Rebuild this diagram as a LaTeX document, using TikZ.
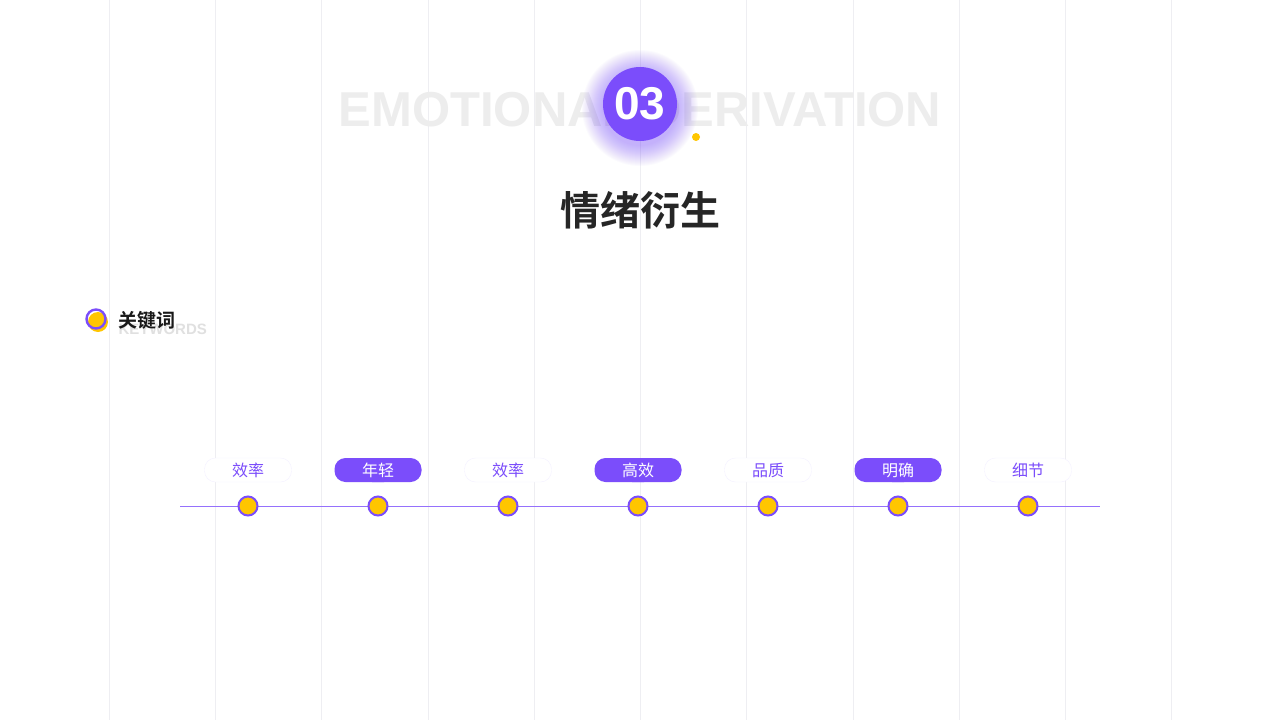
\documentclass[tikz,border=0pt]{standalone}
\usepackage{fontspec}
\setmainfont{Liberation Sans}
\newfontfamily\cjk{Noto Sans CJK SC}
\newfontfamily\cjkb{Noto Sans CJK SC Bold}
\definecolor{pur}{HTML}{7B4DFB}
\definecolor{yel}{HTML}{FFC600}
\definecolor{gridc}{HTML}{EEEEF2}
\tikzset{
 tag/.style={rounded corners=11pt,minimum width=87pt,minimum height=24pt,inner sep=0pt,font=\cjk\fontsize{16}{16}\selectfont},
 taglight/.style={tag,draw=pur!8,fill=white,text=pur},
 tagdark/.style={tag,fill=pur,text=white},
 dot/.style={circle,draw=pur,line width=2pt,fill=yel,minimum size=19pt,inner sep=0pt}
}
\begin{document}
\begin{tikzpicture}[x=1pt,y=-1pt]
\useasboundingbox (0,0) rectangle (1280,720);
\fill[white] (0,0) rectangle (1280,720);
\foreach \x in {109,215,321,428,534,640,746,853,959,1065,1171}
  \draw[gridc,line width=0.8pt] (\x,0) -- (\x,720);
\node[text=black!7,font=\bfseries\fontsize{49}{49}\selectfont] (bg) at (640,110) {EMOTIONAL DERIVATION};
\foreach \r in {38,39,...,58}
  \fill[pur,opacity=0.025] (640,108) circle (\r);
\node[circle,fill=pur,minimum size=74pt,inner sep=0pt,text=white,font=\bfseries\fontsize{46}{46}\selectfont] (num) at (640,104) {03};
\fill[yel] (696,137) circle (4);
\node[font=\cjkb\fontsize{40}{40}\selectfont,text=black!85] (title) at (640,210) {情绪衍生};
% keyword header
\node[text=black!12,font=\bfseries\fontsize{15}{15}\selectfont,anchor=west] (kwen) at (115,329) {KEYWORDS};
\fill[yel] (98,322) circle (10);
\draw[pur,line width=2.4pt] (96,319) circle (9.5);
\node[font=\cjkb\fontsize{19}{19}\selectfont,text=black!90,anchor=west] (kw) at (115,320) {关键词};
% timeline
\coordinate (ls) at (180,506);
\coordinate (le) at (1100,506);
\draw[pur!80,line width=1pt] (ls) -- (le);
\foreach \i/\x/\t/\s in {1/248/效率/taglight,2/378/年轻/tagdark,3/508/效率/taglight,4/638/高效/tagdark,5/768/品质/taglight,6/898/明确/tagdark,7/1028/细节/taglight}{
  \node[dot] (d\i) at (\x,506) {};
  \node[\s] (t\i) at (\x,470) {\t};
}
\foreach \i in {2,4,6}
  \fill[pur] ([xshift=-6pt]t\i.south) -- ([xshift=6pt]t\i.south) -- ([yshift=6pt]t\i.south) -- cycle;
\end{tikzpicture}
\end{document}
